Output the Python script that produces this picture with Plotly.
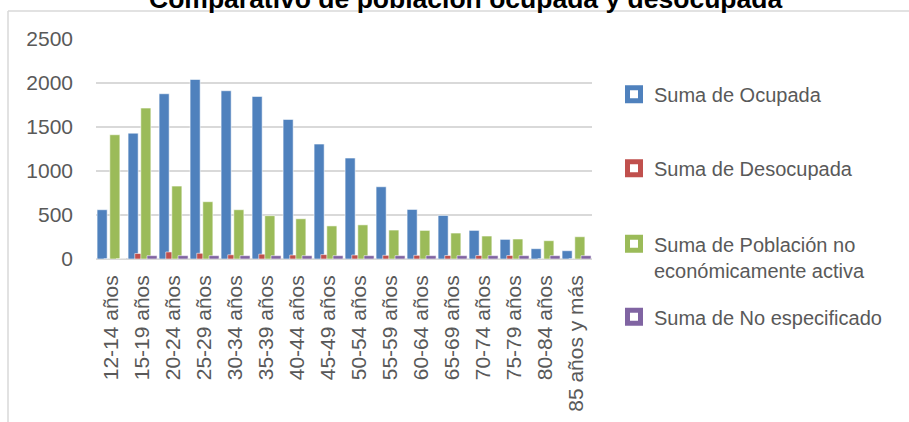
import plotly.graph_objects as go

categories = ["12-14 años", "15-19 años", "20-24 años", "25-29 años", "30-34 años",
              "35-39 años", "40-44 años", "45-49 años", "50-54 años", "55-59 años",
              "60-64 años", "65-69 años", "70-74 años", "75-79 años", "80-84 años",
              "85 años y más"]
ocupada = [560, 1430, 1878, 2040, 1912, 1847, 1586, 1306, 1147, 821, 563, 495, 325, 223, 117, 94]
desocupada = [0, 62, 80, 65, 48, 55, 45, 50, 45, 42, 42, 40, 40, 40, 0, 0]
no_activa = [1412, 1715, 829, 651, 560, 492, 457, 376, 388, 329, 325, 295, 261, 227, 208, 253]
no_especificado = [0, 38, 38, 38, 38, 38, 38, 38, 38, 38, 38, 38, 38, 38, 38, 38]

series_names = ["Suma de Ocupada", "Suma de Desocupada",
                "Suma de Población no<br>económicamente activa", "Suma de No especificado"]
colors = ["#4F81BD", "#C0504D", "#9BBB59", "#8064A2"]
series = [ocupada, desocupada, no_activa, no_especificado]

W, H = 909, 422
L, R, T, B = 96, 592, 39, 259
TXT = "#595959"
FONT = "Liberation Sans, Arial, sans-serif"

offsets = [-0.465, -0.25, -0.055, 0.145]
bar_w = 0.325

fig = go.Figure()
for i, (vals, c) in enumerate(zip(series, colors)):
    fig.add_trace(go.Bar(
        x=categories, y=vals, name=series_names[i], showlegend=False,
        marker=dict(color=c, line=dict(color="rgba(255,255,255,0.55)", width=1)),
        offset=offsets[i], width=bar_w,
    ))

legend_ys = [94.3, 168.3, 256.8, 316.7]
for i, c in enumerate(colors):
    lname = "legend" if i == 0 else f"legend{i+1}"
    fig.add_trace(go.Scatter(
        x=[None], y=[None], mode="markers", name=series_names[i],
        marker=dict(symbol="square", size=13, color="white", line=dict(color=c, width=5)),
        legend=lname, showlegend=True,
    ))

layout_legends = {}
for i, yy in enumerate(legend_ys):
    lname = "legend" if i == 0 else f"legend{i+1}"
    layout_legends[lname] = dict(
        x=614 / W, xref="container", xanchor="left",
        y=1 - yy / H, yref="container", yanchor="middle",
        font=dict(family=FONT, size=20, color=TXT),
        bgcolor="rgba(0,0,0,0)", borderwidth=0, valign="top",
    )

fig.update_layout(
    width=W, height=H,
    margin=dict(l=L, r=W - R, t=T, b=H - B, pad=0, autoexpand=False),
    paper_bgcolor="white", plot_bgcolor="white",
    barmode="overlay",
    font=dict(family=FONT, color=TXT),
    **layout_legends,
)

fig.update_yaxes(
    range=[0, 2500], dtick=500, tick0=0, automargin=False,
    showgrid=True, gridcolor="#D9D9D9", gridwidth=1.5,
    zeroline=True, zerolinecolor="#D9D9D9", zerolinewidth=1.5,
    showline=False, ticks="", ticklabelstandoff=22,
    tickfont=dict(family=FONT, size=21, color=TXT),
)
fig.update_xaxes(
    type="category", categoryorder="array", categoryarray=categories,
    range=[-0.5, len(categories) - 0.5], automargin=False,
    showgrid=False, showline=False, ticks="", tickangle=-90,
    ticklabelstandoff=11,
    tickfont=dict(family=FONT, size=21, color=TXT),
)

# chart border (left and top edges visible)
px_x = lambda p: (p - L) / (R - L)
px_y = lambda p: (B - p) / (B - T)
fig.add_shape(type="line", xref="paper", yref="paper",
              x0=px_x(8), x1=px_x(8), y0=px_y(11), y1=px_y(430),
              line=dict(color="#D9D9D9", width=1.5))
fig.add_shape(type="line", xref="paper", yref="paper",
              x0=px_x(8), x1=px_x(915), y0=px_y(11), y1=px_y(11),
              line=dict(color="#D9D9D9", width=1.5))

fig.add_annotation(
    text="<b>Comparativo de población ocupada y desocupada</b>",
    xref="paper", yref="paper", x=px_x(465.5), y=px_y(-1),
    xanchor="center", yanchor="middle", showarrow=False,
    font=dict(family=FONT, size=26.5, color="black"),
)

fig.write_html("out.html",
               config={"displayModeBar": False},
               post_script="document.body.style.margin='0';document.body.style.overflow='hidden';")
